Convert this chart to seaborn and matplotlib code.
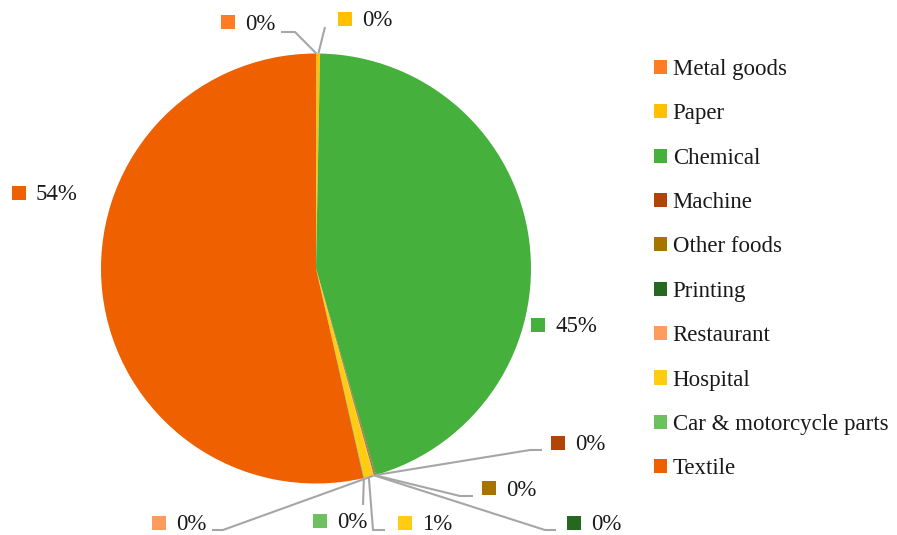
import numpy as np
import matplotlib
matplotlib.use("Agg")
import matplotlib.pyplot as plt
import seaborn as sns

# sector shares (%) in clockwise order from 12 o'clock
sectors = ["Metal goods", "Paper", "Chemical", "Machine", "Other foods",
           "Printing", "Restaurant", "Hospital", "Car & motorcycle parts", "Textile"]
shares = [0.05, 0.25, 45.2, 0.05, 0.05, 0.05, 0.05, 0.7, 0.05, 53.55]
colors = ["#FF7C24", "#FFC000", "#45B03C", "#B24405", "#A87400",
          "#25681F", "#FF9B5C", "#FFCC11", "#6DC05E", "#EE6000"]

sns.set_theme(style="white")
plt.rcParams["font.family"] = ["Liberation Serif", "DejaVu Serif"]
fs = 16.5
tc = "#1a1a1a"

W, H = 897, 535
fig = plt.figure(figsize=(W / 100, H / 100), dpi=100)
ax = fig.add_axes([0, 0, 1, 1])

cx, cy, R = 316, 268.5, 215  # pixel coords, y measured from top
wedges, _ = ax.pie(shares, colors=colors, startangle=90, counterclock=False,
                   radius=R, center=(cx, H - cy), wedgeprops=dict(linewidth=0))
ax.set_xlim(0, W)
ax.set_ylim(0, H)
ax.set_aspect("equal")
ax.axis("off")

def py(y):
    return H - y

# label layout: square marker position, and leader polyline points (pixel, y down)
label_layout = {
    "Metal goods": ((228, 22), [(295, 32), (281, 32)]),
    "Paper": ((345, 19), [(325, 27)]),
    "Chemical": ((538, 325), None),
    "Machine": ((558, 443), [(530, 450), (542, 450)]),
    "Other foods": ((489, 488), [(460, 496), (473, 496)]),
    "Printing": ((574, 523), [(545, 530), (556, 530)]),
    "Restaurant": ((159, 523), [(223, 530), (212, 530)]),
    "Hospital": ((405, 523), [(373, 530), (385, 530)]),
    "Car & motorcycle parts": ((320, 521), [(363, 505)]),
    "Textile": ((19, 193), None),
}

for w, name, val, col in zip(wedges, sectors, shares, colors):
    sq, pts = label_layout[name]
    if pts is not None:
        ang = np.deg2rad((w.theta1 + w.theta2) / 2)
        ax0 = cx + R * np.cos(ang)
        ay0 = py(cy) + R * np.sin(ang)
        xs = [ax0] + [p[0] for p in pts]
        ys = [ay0] + [py(p[1]) for p in pts]
        ax.plot(xs, ys, color="#a6a6a6", lw=1.5, solid_capstyle="butt", zorder=1)
    ax.scatter([sq[0]], [py(sq[1])], marker="s", s=95, color=col, linewidths=0, zorder=3)
    ax.text(sq[0] + 17, py(sq[1]) - 2, f"{val:.0f}%", fontsize=fs, color=tc,
            ha="left", va="center", zorder=3)

leg = ax.legend(wedges, sectors, loc="upper left", bbox_to_anchor=(654 / W, 1 - 59 / H),
                frameon=False, fontsize=fs, labelcolor=tc, handlelength=0.57,
                handleheight=0.57, handletextpad=0.25, labelspacing=1.02, borderpad=0,
                borderaxespad=0)

fig.savefig("out.png", dpi=100)
